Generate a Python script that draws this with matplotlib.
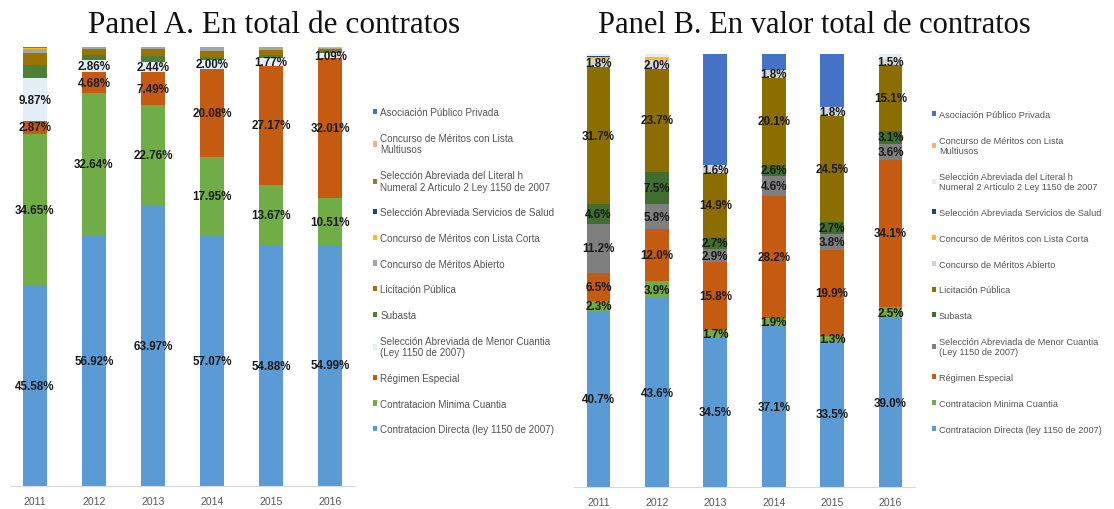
import matplotlib
matplotlib.use("Agg")
import matplotlib.pyplot as plt
import numpy as np

years = ["2011", "2012", "2013", "2014", "2015", "2016"]

categories = [
    "Contratacion Directa (ley 1150 de 2007)",
    "Contratacion Minima Cuantia",
    "Régimen Especial",
    "Selección Abreviada de Menor Cuantia\n(Ley 1150 de 2007)",
    "Subasta",
    "Licitación Pública",
    "Concurso de Méritos Abierto",
    "Concurso de Méritos con Lista Corta",
    "Selección Abreviada Servicios de Salud",
    "Selección Abreviada del Literal h\nNumeral 2 Articulo 2 Ley 1150 de 2007",
    "Concurso de Méritos con Lista\nMultiusos",
    "Asociación Público Privada",
]

# Panel A: share of number of contracts (%)
a_directa   = [45.58, 56.92, 63.97, 57.07, 54.88, 54.99]
a_minima    = [34.65, 32.64, 22.76, 17.95, 13.67, 10.51]
a_regimen   = [2.87, 4.68, 7.49, 20.08, 27.17, 32.01]
a_menor     = [9.87, 2.86, 2.44, 2.00, 1.77, 1.09]
a_subasta   = [3.0, 1.0, 1.3, 0.6, 0.7, 0.4]
a_licit     = [2.7, 1.5, 1.5, 1.5, 1.2, 0.6]
a_abierto   = [0.8, 0.3, 0.44, 0.7, 0.5, 0.2]
a_corta     = [0.4, 0.05, 0.05, 0.05, 0.05, 0.1]
a_salud     = [0.0, 0.0, 0.0, 0.0, 0.0, 0.0]
a_literal   = [0.13, 0.05, 0.05, 0.05, 0.06, 0.1]
a_multi     = [0.0, 0.0, 0.0, 0.0, 0.0, 0.0]
a_app       = [0.0, 0.0, 0.0, 0.0, 0.0, 0.0]

# Panel B: share of total contract value (%)
b_directa   = [40.7, 43.6, 34.5, 37.1, 33.5, 39.0]
b_minima    = [2.3, 3.9, 1.7, 1.9, 1.3, 2.5]
b_regimen   = [6.5, 12.0, 15.8, 28.2, 19.9, 34.1]
b_menor     = [11.2, 5.8, 2.9, 4.6, 3.8, 3.6]
b_subasta   = [4.6, 7.5, 2.7, 2.6, 2.7, 3.1]
b_licit     = [31.7, 23.7, 14.9, 20.1, 24.5, 15.1]
b_abierto   = [1.8, 2.0, 1.6, 1.8, 1.8, 1.5]
b_corta     = [0.5, 0.8, 0.0, 0.0, 0.0, 0.0]
b_salud     = [0.3, 0.0, 0.0, 0.0, 0.0, 0.0]
b_literal   = [0.4, 0.7, 0.2, 0.1, 0.2, 1.1]
b_multi     = [0.0, 0.0, 0.0, 0.0, 0.0, 0.0]
b_app       = [0.0, 0.0, 25.7, 3.6, 12.3, 0.0]

series_a = [a_directa, a_minima, a_regimen, a_menor, a_subasta, a_licit,
            a_abierto, a_corta, a_salud, a_literal, a_multi, a_app]
series_b = [b_directa, b_minima, b_regimen, b_menor, b_subasta, b_licit,
            b_abierto, b_corta, b_salud, b_literal, b_multi, b_app]

colors_a = ["#5B9BD5", "#70AD47", "#C55A11", "#E4EEF8", "#4F7F35", "#9A7400",
            "#A5A5A5", "#FFC000", "#264478", "#8C7A2E", "#F4B183", "#4472C4"]
colors_b = ["#5B9BD5", "#70AD47", "#C55A11", "#7F7F7F", "#3F6E2F", "#8C6D00",
            "#D3D3D3", "#FFC000", "#264478", "#E6ECF5", "#F4B183", "#4472C4"]

labeled_a = {0, 1, 2, 3}
labeled_b = {0, 1, 2, 3, 4, 5, 6}

W, H = 1114, 510
fig = plt.figure(figsize=(W / 100, H / 100), dpi=100)
fig.patch.set_facecolor("white")


def make_panel(left_px, right_px, top_px, base_px, series, colors, labeled, fmt):
    ax = fig.add_axes([left_px / W, 1 - base_px / H,
                       (right_px - left_px) / W, (base_px - top_px) / H])
    x = np.arange(len(years))
    bottom = np.zeros(len(years))
    for i, (vals, col, lab) in enumerate(zip(series, colors, categories)):
        v = np.array(vals, dtype=float)
        ax.bar(x, v, 0.41, bottom=bottom, color=col, label=lab, linewidth=0)
        if i in labeled:
            for xi, (b, vv) in enumerate(zip(bottom, v)):
                ax.text(xi, b + vv / 2, fmt.format(vv), ha="center", va="center",
                        fontsize=8.4, fontweight="bold", color="#1a1a1a",
                        family="Liberation Sans")
        bottom += v
    ax.set_xlim(-0.42, len(years) - 0.58)
    ax.set_ylim(0, 100)
    ax.set_xticks(x)
    ax.set_xticklabels(years, fontsize=7.6, color="#595959", family="Liberation Sans")
    ax.tick_params(axis="x", length=0, pad=7)
    ax.set_yticks([])
    for s in ["top", "left", "right"]:
        ax.spines[s].set_visible(False)
    ax.spines["bottom"].set_color("#D9D9D9")
    ax.spines["bottom"].set_linewidth(0.8)
    return ax


axA = make_panel(10, 355, 48, 487, series_a, colors_a, labeled_a, "{:.2f}%")
axB = make_panel(574, 915, 55, 488, series_b, colors_b, labeled_b, "{:.1f}%")

fig.text(274 / W, 1 - 33 / H, "Panel A. En total de contratos", ha="center",
         va="baseline", fontsize=22.5, family="Liberation Serif", color="#111111")
fig.text(814 / W, 1 - 33 / H, "Panel B. En valor total de contratos", ha="center",
         va="baseline", fontsize=22, family="Liberation Serif", color="#111111")

for ax, xpx, ypx, fs, sp in [(axA, 373, 108, 7.1, 1.59), (axB, 932, 111, 6.6, 1.83)]:
    h, l = ax.get_legend_handles_labels()
    leg = fig.legend(h[::-1], l[::-1], loc="upper left",
                     bbox_to_anchor=(xpx / W, 1 - ypx / H),
                     frameon=False, labelspacing=sp,
                     handlelength=0.45, handleheight=0.45, handletextpad=0.3,
                     borderpad=0, borderaxespad=0,
                     prop={"family": "Liberation Sans", "size": fs})
    for t in leg.get_texts():
        t.set_color("#555555")

fig.savefig("out.png", dpi=100, facecolor="white")
